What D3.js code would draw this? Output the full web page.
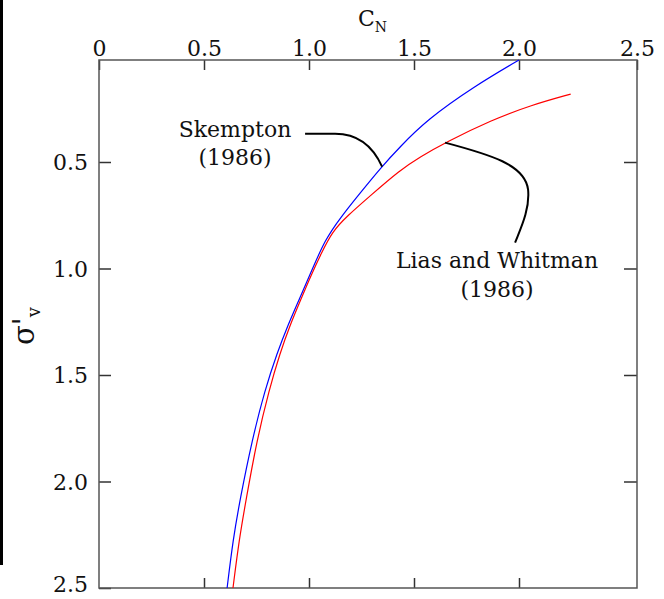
<!DOCTYPE html>
<html><head><meta charset="utf-8">
<script src="https://cdn.jsdelivr.net/npm/d3@7"></script>
<style>body{margin:0;background:#fff}svg{display:block}text{font-family:"DejaVu Serif",serif;fill:#111}</style>
</head><body><svg id="c" width="664" height="599"></svg>
<script>
// Data: C_N versus effective vertical stress
const skemptonCN    = [2.0,1.79,1.56,1.433,1.346,1.243,1.148,1.076,1.014,0.952,0.900,0.848,0.790,0.729,0.671,0.638,0.610];
const skemptonSigma = [0,0.127,0.294,0.426,0.522,0.646,0.763,0.866,1.007,1.148,1.265,1.397,1.570,1.805,2.087,2.275,2.5];
const liaoCN    = [2.219,2.052,1.870,1.648,1.529,1.433,1.290,1.180,1.110,1.058,1.010,0.960,0.910,0.862,0.810,0.752,0.700,0.667,0.638];
const liaoSigma = [0.167,0.221,0.294,0.405,0.475,0.538,0.660,0.755,0.828,0.930,1.031,1.148,1.265,1.397,1.570,1.805,2.087,2.275,2.5];
const xTicks = [0,0.5,1.0,1.5,2.0,2.5];
const xTickLabels = ["0","0.5","1.0","1.5","2.0","2.5"];
const yTicks = [0.5,1.0,1.5,2.0,2.5];
const yTickLabels = ["0.5","1.0","1.5","2.0","2.5"];
const labels = [
  {lines:["Skempton","(1986)"], cn:1.348, sigma:0.522},
  {lines:["Lias and Whitman","(1986)"], cn:1.648, sigma:0.405}
];

const svg = d3.select("#c");
const L=99, R=637, T=60, B=588;
const x = d3.scaleLinear().domain([0,2.0,2.5]).range([L,519,R]);
const y = d3.scaleLinear().domain([0,0.5,2.5]).range([T,162,B]);

// left black bar artifact
svg.append("rect").attr("x",0).attr("y",0).attr("width",3).attr("height",565).attr("fill","#000");

const axisCol="#333";
const gTop = svg.append("g").attr("transform",`translate(0,${T})`)
  .call(d3.axisTop(x).tickValues(xTicks).tickFormat((d,i)=>xTickLabels[i]).tickSizeInner(-10).tickSizeOuter(0).tickPadding(4));
const gBot = svg.append("g").attr("transform",`translate(0,${B})`)
  .call(d3.axisBottom(x).tickValues(xTicks.slice(1,-1)).tickFormat("").tickSizeInner(-10).tickSizeOuter(0));
const gLeft = svg.append("g").attr("transform",`translate(${L},0)`)
  .call(d3.axisLeft(y).tickValues(yTicks).tickFormat((d,i)=>yTickLabels[i]).tickSizeInner(-12).tickSizeOuter(0).tickPadding(11));
const gRight = svg.append("g").attr("transform",`translate(${R},0)`)
  .call(d3.axisRight(y).tickValues(yTicks.slice(0,-1)).tickFormat("").tickSizeInner(-13).tickSizeOuter(0));
[gTop,gBot,gLeft,gRight].forEach(g=>{
  g.select(".domain").remove();
  g.selectAll("line").attr("stroke",axisCol).attr("stroke-width",1.5);
  g.selectAll("text").attr("font-family","DejaVu Serif").attr("font-size",22).attr("fill","#111");
});
gLeft.selectAll("text").attr("dy","0.36em").filter(d=>d===2.5).attr("dy","0.16em");

svg.append("rect").attr("x",L).attr("y",T).attr("width",R-L).attr("height",B-T)
  .attr("fill","none").attr("stroke","#555").attr("stroke-width",1.5);

const cn = svg.append("text").attr("x",358).attr("y",26).attr("font-size",22).attr("font-family","DejaVu Serif");
cn.append("tspan").text("C");
cn.append("tspan").attr("font-size",14).attr("dy",6).text("N");

const sv = svg.append("text").attr("transform","translate(34,345) rotate(-90)")
  .attr("font-family","DejaVu Sans").attr("font-size",29);
sv.append("tspan").text("σ'");
sv.append("tspan").attr("font-size",18).attr("dy",6).text("v");

const line = d3.line().x(d=>x(d[0])).y(d=>y(d[1])).curve(d3.curveBasis);
svg.append("path").datum(skemptonCN.map((c,i)=>[c,skemptonSigma[i]]))
  .attr("d",line).attr("fill","none").attr("stroke","#0000ff").attr("stroke-width",1.2);
svg.append("path").datum(liaoCN.map((c,i)=>[c,liaoSigma[i]]))
  .attr("d",line).attr("fill","none").attr("stroke","#ff0000").attr("stroke-width",1.2);

const a0 = [x(labels[0].cn), y(labels[0].sigma)];
svg.append("path").attr("d",`M${a0[0]-77},${a0[1]-33} L${a0[0]-47},${a0[1]-33} C${a0[0]-22},${a0[1]-33} ${a0[0]-8},${a0[1]-18} ${a0[0]},${a0[1]}`)
  .attr("fill","none").attr("stroke","#000").attr("stroke-width",2);
const a1 = [x(labels[1].cn), y(labels[1].sigma)];
svg.append("path").attr("d",`M${a1[0]},${a1[1]} C${a1[0]+45},${a1[1]+12} ${a1[0]+80},${a1[1]+22} ${a1[0]+83},${a1[1]+47} C${a1[0]+85},${a1[1]+67} ${a1[0]+75},${a1[1]+87} ${a1[0]+70},${a1[1]+100}`)
  .attr("fill","none").attr("stroke","#000").attr("stroke-width",2);

const t0 = svg.append("text").attr("text-anchor","middle").attr("font-size",22);
t0.append("tspan").attr("x",235).attr("y",137).text(labels[0].lines[0]);
t0.append("tspan").attr("x",235).attr("y",165).text(labels[0].lines[1]);
const t1 = svg.append("text").attr("text-anchor","middle").attr("font-size",22);
t1.append("tspan").attr("x",497).attr("y",268).text(labels[1].lines[0]);
t1.append("tspan").attr("x",497).attr("y",297).text(labels[1].lines[1]);
</script></body></html>
